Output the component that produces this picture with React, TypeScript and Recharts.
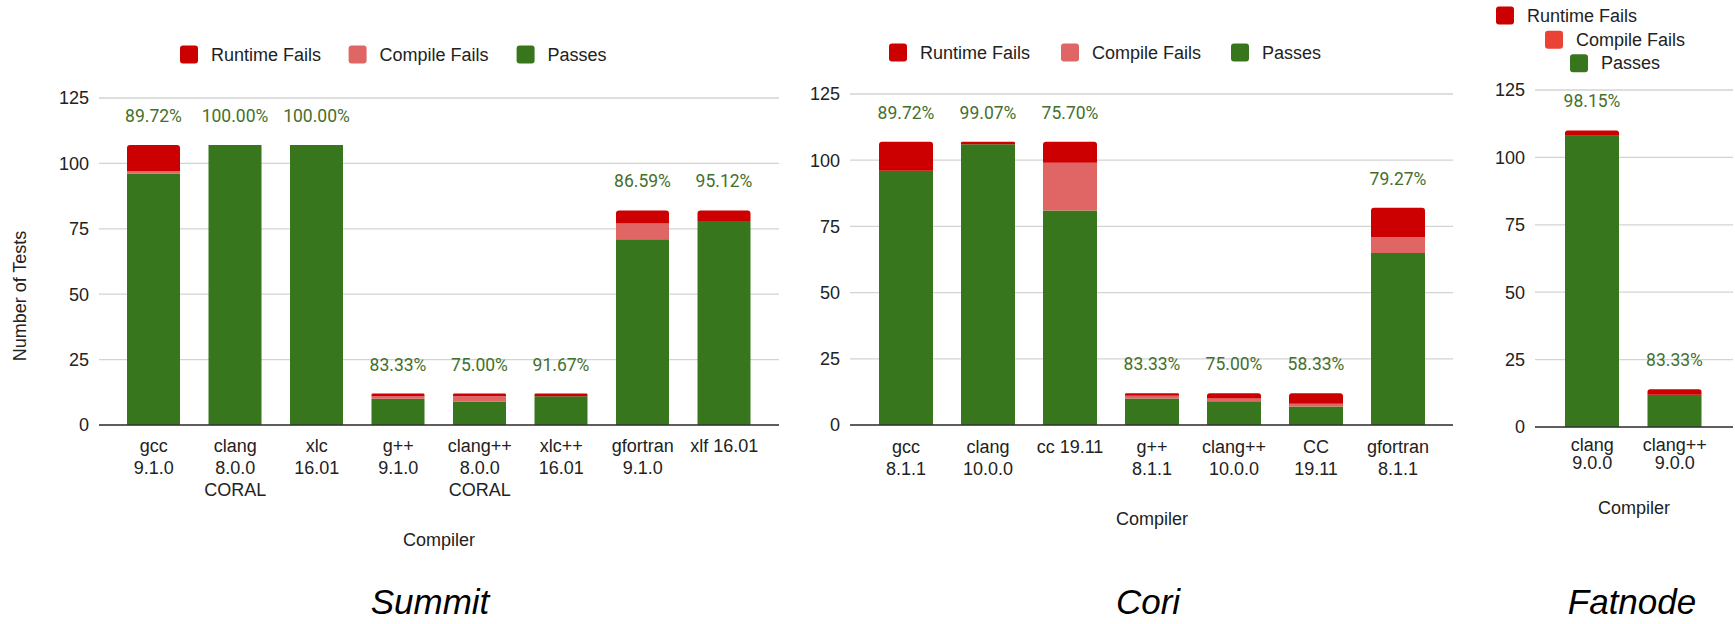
import { BarChart, Bar, XAxis, YAxis, CartesianGrid, LabelList } from 'recharts'

const RUNTIME = '#cc0000'
const COMPILE = '#e06666'
const PASS = '#38761d'
const ARIAL = '"Liberation Sans", Arial, sans-serif'
const TEXT = '#222222'

// Summit
const summitCompilers = ['gcc\n9.1.0', 'clang\n8.0.0\nCORAL', 'xlc\n16.01', 'g++\n9.1.0', 'clang++\n8.0.0\nCORAL', 'xlc++\n16.01', 'gfortran\n9.1.0', 'xlf 16.01']
const summitPasses = [96, 107, 107, 10, 9, 11, 71, 78]
const summitCompileFails = [1, 0, 0, 1, 2, 0, 6, 0]
const summitRuntimeFails = [10, 0, 0, 1, 1, 1, 5, 4]
const summitRates = ['89.72%', '100.00%', '100.00%', '83.33%', '75.00%', '91.67%', '86.59%', '95.12%']

// Cori
const coriCompilers = ['gcc\n8.1.1', 'clang\n10.0.0', 'cc 19.11', 'g++\n8.1.1', 'clang++\n10.0.0', 'CC\n19.11', 'gfortran\n8.1.1']
const coriPasses = [96, 106, 81, 10, 9, 7, 65]
const coriCompileFails = [0, 0, 18, 1, 1, 1, 6]
const coriRuntimeFails = [11, 1, 8, 1, 2, 4, 11]
const coriRates = ['89.72%', '99.07%', '75.70%', '83.33%', '75.00%', '58.33%', '79.27%']

// Fatnode
const fatnodeCompilers = ['clang\n9.0.0', 'clang++\n9.0.0']
const fatnodePasses = [108, 12]
const fatnodeCompileFails = [0, 0]
const fatnodeRuntimeFails = [2, 2]
const fatnodeRates = ['98.15%', '83.33%']

const yTicks = [0, 25, 50, 75, 100, 125]
const legendNames = ['Runtime Fails', 'Compile Fails', 'Passes']

function buildRows(names: string[], passes: number[], compile: number[], runtime: number[], rates: string[]) {
  return names.map((name, i) => ({
    name,
    passes: passes[i],
    compile: compile[i],
    runtime: runtime[i],
    rate: rates[i],
  }))
}

const makeTick = (offset: number, lineGap: number) => (props: any) => {
  const { x, y, payload } = props
  const lines = String(payload.value).split('\n')
  return (
    <text x={x} y={Number(y) + offset} textAnchor="middle" fontFamily={ARIAL} fontSize={18} fill={TEXT}>
      {lines.map((l, i) => (
        <tspan key={i} x={x} dy={i === 0 ? 0 : lineGap}>
          {l}
        </tspan>
      ))}
    </text>
  )
}

// label sits on the passes bar; lift it by the fails stacked above using the bar's own px/unit
const rateLabel = (props: any) => {
  const row = props.value
  if (!row) return null
  const x = Number(props.x)
  const y = Number(props.y)
  const width = Number(props.width)
  const height = Number(props.height)
  const perUnit = height / row.passes
  const top = y - (row.compile + row.runtime) * perUnit
  return (
    <text
      x={x + width / 2}
      y={top - 29}
      textAnchor="middle"
      dominantBaseline="central"
      fontFamily="Roboto, sans-serif"
      fontSize={17.5}
      fill="#44702c"
    >
      {row.rate}
    </text>
  )
}

interface StackChartProps {
  rows: any[]
  left: number
  width: number
  margin: { top: number; right: number; bottom: number; left: number }
  padding: { left: number; right: number }
  barSize: number
  tickOffset: number
  lineGap: number
}

function StackChart({ rows, left, width, margin, padding, barSize, tickOffset, lineGap }: StackChartProps) {
  return (
    <div style={{ position: 'absolute', left, top: 0 }}>
      <BarChart width={width} height={624} data={rows} margin={margin} barSize={barSize}>
        <CartesianGrid vertical={false} stroke="#d3d3d3" strokeWidth={1.3} />
        <XAxis
          dataKey="name"
          interval={0}
          padding={padding}
          axisLine={{ stroke: '#333333', strokeWidth: 1.5 }}
          tickLine={false}
          height={60}
          tick={makeTick(tickOffset, lineGap)}
        />
        <YAxis
          width={60}
          domain={[0, 125]}
          ticks={yTicks}
          axisLine={false}
          tickLine={false}
          tickMargin={4}
          tick={{ fontFamily: ARIAL, fontSize: 18, fill: TEXT }}
        />
        <Bar dataKey="passes" stackId="a" fill={PASS} isAnimationActive={false}>
          <LabelList dataKey={(d: any) => d} content={rateLabel} />
        </Bar>
        <Bar dataKey="compile" stackId="a" fill={COMPILE} isAnimationActive={false} />
        <Bar dataKey="runtime" stackId="a" fill={RUNTIME} radius={[3, 3, 0, 0]} isAnimationActive={false} />
      </BarChart>
    </div>
  )
}

function LegendItem({ x, cy, color, label }: { x: number; cy: number; color: string; label: string }) {
  return (
    <g>
      <rect x={x} y={cy - 9} width={18} height={18} rx={3} fill={color} />
      <text x={x + 31} y={cy} dominantBaseline="central" fontFamily={ARIAL} fontSize={18} fill={TEXT}>
        {label}
      </text>
    </g>
  )
}

export default function App() {
  const summitRows = buildRows(summitCompilers, summitPasses, summitCompileFails, summitRuntimeFails, summitRates)
  const coriRows = buildRows(coriCompilers, coriPasses, coriCompileFails, coriRuntimeFails, coriRates)
  const fatnodeRows = buildRows(fatnodeCompilers, fatnodePasses, fatnodeCompileFails, fatnodeRuntimeFails, fatnodeRates)
  const colors = [RUNTIME, COMPILE, PASS]

  return (
    <div style={{ position: 'absolute', left: 0, top: 0, width: 1735, height: 624, background: '#fff' }}>
      <StackChart
        rows={summitRows}
        left={0}
        width={800}
        margin={{ top: 98, right: 21, bottom: 139, left: 39 }}
        padding={{ left: 14, right: 14 }}
        barSize={53}
        tickOffset={19}
        lineGap={22}
      />
      <StackChart
        rows={coriRows}
        left={780}
        width={690}
        margin={{ top: 94, right: 17, bottom: 139, left: 10 }}
        padding={{ left: 15, right: 14 }}
        barSize={54}
        tickOffset={20}
        lineGap={22}
      />
      <StackChart
        rows={fatnodeRows}
        left={1470}
        width={265}
        margin={{ top: 90, right: 2, bottom: 137, left: 5 }}
        padding={{ left: 16, right: 17 }}
        barSize={54}
        tickOffset={16}
        lineGap={18}
      />
      <svg width={1735} height={624} style={{ position: 'absolute', left: 0, top: 0, pointerEvents: 'none' }}>
        {/* legends */}
        {[180, 348.6, 516.6].map((x, i) => (
          <LegendItem key={'s' + i} x={x} cy={54.5} color={colors[i]} label={legendNames[i]} />
        ))}
        {[889, 1061, 1231].map((x, i) => (
          <LegendItem key={'c' + i} x={x} cy={52.5} color={colors[i]} label={legendNames[i]} />
        ))}
        {[1496, 1545, 1570].map((x, i) => (
          <LegendItem
            key={'f' + i}
            x={x}
            cy={[15.5, 39.7, 63.3][i]}
            color={i === 1 ? '#ea4335' : colors[i]}
            label={legendNames[i]}
          />
        ))}

        {/* axis titles */}
        <text
          transform="translate(20,296) rotate(-90)"
          textAnchor="middle"
          dominantBaseline="central"
          fontFamily={ARIAL}
          fontSize={18}
          fill={TEXT}
        >
          Number of Tests
        </text>
        <text x={439} y={540} textAnchor="middle" dominantBaseline="central" fontFamily={ARIAL} fontSize={18} fill={TEXT}>
          Compiler
        </text>
        <text x={1152} y={519} textAnchor="middle" dominantBaseline="central" fontFamily={ARIAL} fontSize={18} fill={TEXT}>
          Compiler
        </text>
        <text x={1634} y={508} textAnchor="middle" dominantBaseline="central" fontFamily={ARIAL} fontSize={18} fill={TEXT}>
          Compiler
        </text>

        {/* machine titles */}
        <text x={430} y={614} textAnchor="middle" fontFamily={ARIAL} fontStyle="italic" fontSize={35} fill="#000">
          Summit
        </text>
        <text x={1148} y={614} textAnchor="middle" fontFamily={ARIAL} fontStyle="italic" fontSize={35} fill="#000">
          Cori
        </text>
        <text x={1632} y={614} textAnchor="middle" fontFamily={ARIAL} fontStyle="italic" fontSize={35} fill="#000">
          Fatnode
        </text>
      </svg>
    </div>
  )
}
